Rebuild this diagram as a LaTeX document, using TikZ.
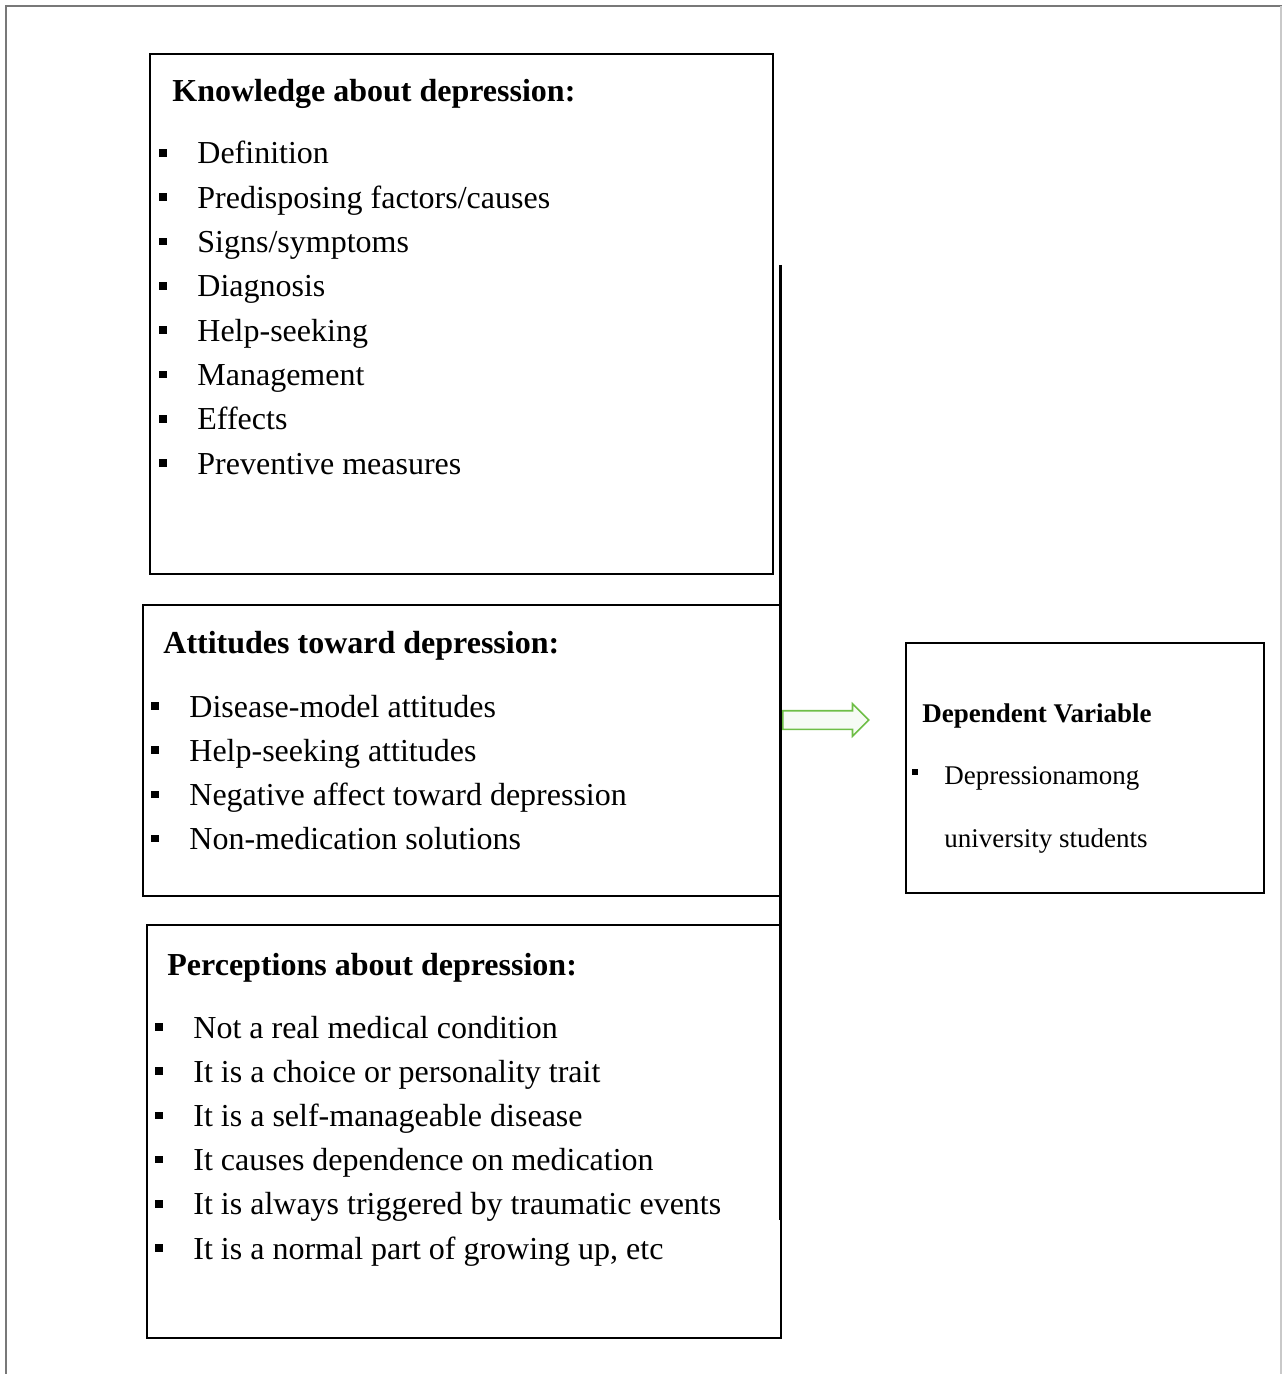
\documentclass[tikz,border=0pt]{standalone}
\usepackage{fontspec}
\setmainfont{Liberation Serif}
\usetikzlibrary{shapes.arrows}

\definecolor{arrowgreen}{RGB}{110,190,70}
\definecolor{framegray}{RGB}{120,120,120}

\begin{document}
\begin{tikzpicture}[x=0.5pt, y=-0.5pt,
    box/.style={draw, line width=1pt},
    head/.style={anchor=base west, inner sep=0pt, font=\fontsize{16}{18}\selectfont\bfseries},
    item/.style={anchor=base west, inner sep=0pt, font=\fontsize{16}{18}\selectfont},
    sq/.style={fill, inner sep=0pt, minimum width=3.8pt, minimum height=3.8pt}]
    \useasboundingbox (0, 0) rectangle (1282, 1374);

    % outer frame
    \draw[framegray, line width=0.8pt] (6, 1374) -- (6, 6) -- (1282, 6);
    \draw[framegray!40, line width=0.8pt] (1281, 6) -- (1281, 1374);

    % knowledge
    \draw[box] (150, 54) rectangle (773, 574);
    \node[head] (khead) at (172, 102) {Knowledge about depression:};
    \foreach \txt [count=\i] in {Definition, Predisposing factors/causes, Signs/symptoms,
        Diagnosis, Help-seeking, Management, Effects, Preventive measures} {
      \node[sq] (kb\i) at (163, 153+44.3*\i-44.3) {};
      \node[item] (k\i) at (197, 164+44.3*\i-44.3) {\txt};
    }

    % attitudes
    \draw[box] (143, 605) rectangle (780, 896);
    \node[head] (ahead) at (163, 653) {Attitudes toward depression:};
    \foreach \txt [count=\i] in {Disease-model attitudes, Help-seeking attitudes,
        Negative affect toward depression, Non-medication solutions} {
      \node[sq] (ab\i) at (155, 706+44.2*\i-44.2) {};
      \node[item] (a\i) at (189, 717+44.2*\i-44.2) {\txt};
    }

    % perceptions
    \draw[box] (147, 925) rectangle (781, 1338);
    \node[head] (phead) at (167, 975) {Perceptions about depression:};
    \foreach \txt [count=\i] in {Not a real medical condition, It is a choice or personality trait,
        It is a self-manageable disease, It causes dependence on medication,
        It is always triggered by traumatic events, {It is a normal part of growing up, etc}} {
      \node[sq] (pb\i) at (159, 1027+44.2*\i-44.2) {};
      \node[item] (p\i) at (193, 1038+44.2*\i-44.2) {\txt};
    }

    % dependent variable
    \node[box, anchor=north west, minimum width=179pt, minimum height=125pt] (dep) at (905, 642) {};
    \node[head, font=\fontsize{13.5}{15}\selectfont\bfseries] (dhead) at (922, 722) {Dependent Variable};
    \node[sq, minimum width=3.2pt, minimum height=3.2pt] (db1) at (915, 772) {};
    \node[item, font=\fontsize{13.5}{15}\selectfont] (d1) at (944, 784) {Depressionamong};
    \node[item, font=\fontsize{13.5}{15}\selectfont] (d2) at (944, 847) {university students};

    % joining line and arrow
    \coordinate (top) at (780, 265);
    \coordinate (bot) at (780, 1220);
    \coordinate (join) at (782, 720);
    \draw[line width=1.5pt] (top) -- (bot);
    \node[single arrow, draw=arrowgreen, fill=arrowgreen!6, line width=0.8pt,
        inner xsep=0pt, inner ysep=4.25pt,
        minimum height=43pt, single arrow head extend=3.5pt,
        anchor=tail] (arr) at (join) {};
\end{tikzpicture}
\end{document}
